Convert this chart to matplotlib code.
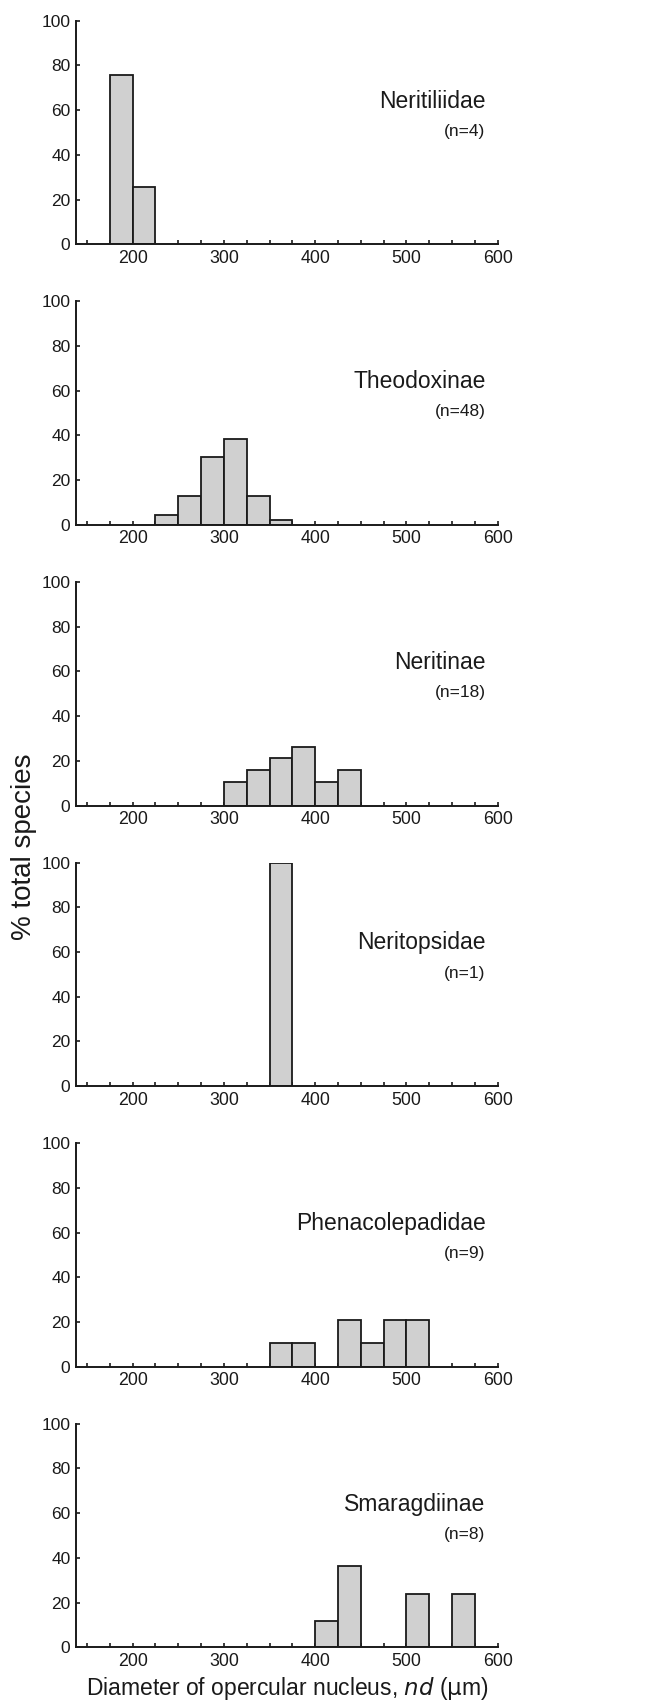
import matplotlib
matplotlib.use("Agg")
import matplotlib.pyplot as plt

plt.rcParams['font.family'] = ['Liberation Sans', 'DejaVu Sans']

families = ["Neritiliidae", "Theodoxinae", "Neritinae", "Neritopsidae",
            "Phenacolepadidae", "Smaragdiinae"]
n_labels = ["(n=4)", "(n=48)", "(n=18)", "(n=1)", "(n=9)", "(n=8)"]

bin_width = 25
neritiliidae_bins = [175, 200]
neritiliidae_pct = [75.5, 25.5]
theodoxinae_bins = [225, 250, 275, 300, 325, 350]
theodoxinae_pct = [4.5, 13.0, 30.2, 38.5, 13.0, 2.4]
neritinae_bins = [300, 325, 350, 375, 400, 425]
neritinae_pct = [10.5, 15.8, 21.1, 26.3, 10.5, 15.8]
neritopsidae_bins = [350]
neritopsidae_pct = [100.0]
phenacolepadidae_bins = [350, 375, 425, 450, 475, 500]
phenacolepadidae_pct = [10.5, 10.5, 21.1, 10.5, 21.1, 21.1]
smaragdiinae_bins = [400, 425, 500, 550]
smaragdiinae_pct = [11.8, 36.5, 23.8, 23.8]

all_bins = [neritiliidae_bins, theodoxinae_bins, neritinae_bins,
            neritopsidae_bins, phenacolepadidae_bins, smaragdiinae_bins]
all_pct = [neritiliidae_pct, theodoxinae_pct, neritinae_pct,
           neritopsidae_pct, phenacolepadidae_pct, smaragdiinae_pct]

x_ticks_major = [200, 300, 400, 500, 600]
y_ticks = [0, 20, 40, 60, 80, 100]

W, H = 651, 1707
fig = plt.figure(figsize=(W / 100, H / 100), dpi=100)

left_px, right_px = 76, 497.7
ax_h_px = 223.6
first_bottom_px = 244.3
step_px = 280.6

for i in range(6):
    bottom_px = first_bottom_px + i * step_px
    ax = fig.add_axes([left_px / W, 1 - bottom_px / H,
                       (right_px - left_px) / W, ax_h_px / H])
    ax.bar(all_bins[i], all_pct[i], width=bin_width, align='edge',
           color='#d0d0d0', edgecolor='#1a1a1a', linewidth=1.3, zorder=2)
    ax.set_xlim(138, 600)
    ax.set_ylim(0, 100)
    for s in ['top', 'right']:
        ax.spines[s].set_visible(False)
    for s in ['left', 'bottom']:
        ax.spines[s].set_linewidth(1.4)
        ax.spines[s].set_color('#1a1a1a')
    ax.set_xticks(x_ticks_major)
    ax.set_xticks(list(range(150, 601, 25)), minor=True)
    ax.set_yticks(y_ticks)
    ax.tick_params(axis='x', which='both', direction='in', length=3,
                   width=1.2, labelsize=12.8, pad=4, colors='#1a1a1a')
    ax.tick_params(axis='y', which='both', direction='in', length=3,
                   width=1.2, labelsize=12.5, pad=4, colors='#1a1a1a')
    ax.text(0.971, 0.64, families[i], transform=ax.transAxes,
            ha='right', va='center', fontsize=16.5, color='#1a1a1a')
    ax.text(0.971, 0.505, n_labels[i], transform=ax.transAxes,
            ha='right', va='center', fontsize=12.5, color='#1a1a1a')
    if i == 5:
        ax.set_xlabel(r"Diameter of opercular nucleus, $\it{nd}$ ($\mathrm{\mu}$m)",
                      fontsize=16.5, labelpad=4, color='#1a1a1a')

fig.text(24 / W, 1 - 846.5 / H, "% total species", rotation=90,
         ha='center', va='center', fontsize=20, color='#1a1a1a')

fig.savefig("out.png", dpi=100)
